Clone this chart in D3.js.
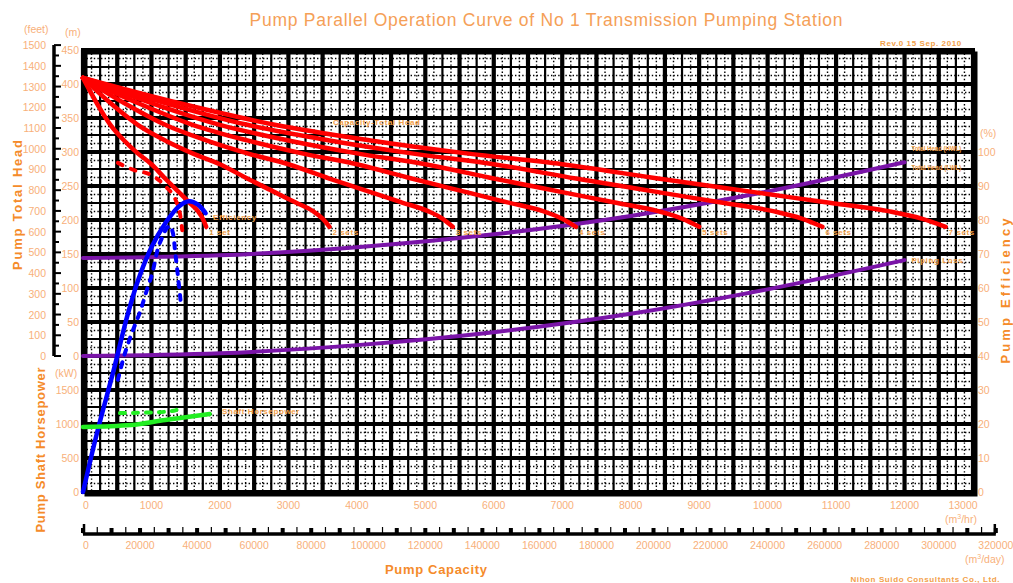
<!DOCTYPE html>
<html><head><meta charset="utf-8">
<script src="https://cdn.jsdelivr.net/npm/d3@7"></script>
<style>body{margin:0;background:#fff;} svg{display:block;font-family:"Liberation Sans",Arial,sans-serif;}</style>
</head><body><svg id="c" width="1013" height="583"></svg>
<script>
// ---------- tick labels ----------
const headTicks = [0,50,100,150,200,250,300,350,400,450];
const feetTicks = [0,100,200,300,400,500,600,700,800,900,1000,1100,1200,1300,1400,1500];
const kwTicks = [0,500,1000,1500];
const effTicks = [0,10,20,30,40,50,60,70,80,90,100];
const capTicks = [0,1000,2000,3000,4000,5000,6000,7000,8000,9000,10000,11000,12000,13000];
const dayTicks = [0,20000,40000,60000,80000,100000,120000,140000,160000,180000,200000,220000,240000,260000,280000,300000,320000];

// ---------- pump Q-H curves (m3/hr, m) ----------
const headValues = [409,372,340,317,298,282,261,241,226,213,202,190];
const capSet1 = [0,200,400,600,800,1000,1200,1400,1550,1680,1750,1800];
const capSet2 = [0,400,800,1200,1600,2000,2400,2800,3100,3360,3500,3600];
const capSet3 = [0,600,1200,1800,2400,3000,3600,4200,4650,5040,5250,5400];
const capSet4 = [0,800,1600,2400,3200,4000,4800,5600,6200,6720,7000,7200];
const capSet5 = [0,1000,2000,3000,4000,5000,6000,7000,7750,8400,8750,9000];
const capSet6 = [0,1200,2400,3600,4800,6000,7200,8400,9300,10080,10500,10800];
const capSet7 = [0,1400,2800,4200,5600,7000,8400,9800,10850,11760,12250,12600];
const setLabels = ["1 set","2 sets","3 sets","4 sets","5 sets","6 sets","7 sets"];

// dashed single pump head curve
const dashHeadQ = [510,730,1000,1200,1370,1420,1450];
const dashHeadH = [284,274,266,250,225,207,185];

// efficiency (%)
const effQ = [0,200,450,650,800,1000,1200,1400,1550,1680,1790];
const effV = [0,17,36,52,62,72,79,84,85.5,84.5,82];
const dashEffQ = [510,600,700,833,950,1008,1100,1160,1220,1271,1315,1344,1373,1395,1417,1430];
const dashEffV = [33,40,46,53,60.5,64,72,75,77.5,78.3,76,71,66,62,58,55];

// shaft power (kW)
const powQ = [0,700,1200,1850];
const powV = [956,985,1060,1147];
const dashPowQ = [540,800,1000,1200,1350,1430];
const dashPowV = [1160,1165,1170,1180,1200,1290];

// system curves (m)
const sysQ = [0,2000,4000,6000,8000,10000,12000];
const totalHeadV = [144,148,160,179,206,242,285];
const pipeLossV = [0,4,16,35,62,98,141];

// ---------- scales ----------
const svg = d3.select("#c");
const L=83, R=973, T=50, B=492;
const x = d3.scaleLinear().domain([0,13000]).range([L,R]);
const yH = d3.scaleLinear().domain([-200,450]).range([B,T]);
const yFt = d3.scaleLinear().domain([0,1500]).range([yH(0), yH(457.2)]);
const yKw = d3.scaleLinear().domain([0,6500]).range([B,T]);
const yE = d3.scaleLinear().domain([0,130]).range([B,T]);
const xDay = d3.scaleLinear().domain([0,312000]).range([L,R]);

const tickCol="#f8b07a", titleCol="#f5a057", axTitleCol="#f58b2a", lblCol="#f2a04a";

// ---------- grid ----------
const g = svg.append("g");
g.append("rect").attr("x",L).attr("y",T).attr("width",R-L).attr("height",B-T).attr("fill","#fff");
const colStep=500, rowStep=50;
const qLines = d3.range(0,13000+1,125);
const hLines = d3.range(-200,450+1,12.5);
function kind(v,step){ const r=((v%step)+step)%step; if(r===0) return 3; if(r===step/2) return 2; return 1; }
const sw = k => k===3?4.2:k===2?2.2:1.4;
[1,2,3].forEach(pass=>{
  qLines.forEach(v=>{
    const k=kind(v,colStep); if(k!==pass) return;
    g.append("line").attr("x1",x(v)).attr("x2",x(v)).attr("y1",T).attr("y2",B)
     .attr("stroke","#000").attr("stroke-width",sw(k))
     .attr("stroke-dasharray",k===1?"1.4,2.2":null);
  });
  hLines.forEach(v=>{
    const k=kind(v,rowStep); if(k!==pass) return;
    g.append("line").attr("x1",L).attr("x2",R).attr("y1",yH(v)).attr("y2",yH(v))
     .attr("stroke","#000").attr("stroke-width",sw(k))
     .attr("stroke-dasharray",k===1?"1.4,2.2":null);
  });
});
// frame with shadow
g.append("rect").attr("x",L+3).attr("y",T+3).attr("width",R-L).attr("height",B-T).attr("fill","none").attr("stroke","#000").attr("stroke-width",3);
g.append("rect").attr("x",L).attr("y",T).attr("width",R-L).attr("height",B-T).attr("fill","none").attr("stroke","#000").attr("stroke-width",4);

// ---------- curves ----------
const lineH = d3.line().x(d=>x(d[0])).y(d=>yH(d[1])).curve(d3.curveMonotoneX);
const lineE = d3.line().x(d=>x(d[0])).y(d=>yE(d[1])).curve(d3.curveCatmullRom);
const lineK = d3.line().x(d=>x(d[0])).y(d=>yKw(d[1])).curve(d3.curveMonotoneX);
const cg = svg.append("g").attr("fill","none").attr("stroke-linecap","round");

cg.append("path").attr("d",lineH(d3.zip(sysQ,pipeLossV))).attr("stroke","#7a14a8").attr("stroke-width",4);
cg.append("path").attr("d",lineH(d3.zip(sysQ,totalHeadV))).attr("stroke","#7a14a8").attr("stroke-width",4);

const sets=[capSet1,capSet2,capSet3,capSet4,capSet5,capSet6,capSet7];
sets.forEach(c=>{
  cg.append("path").attr("d",lineH(d3.zip(c,headValues))).attr("stroke","#ff0000").attr("stroke-width",4.5);
});
cg.append("path").attr("d",lineH(d3.zip(dashHeadQ,dashHeadH))).attr("stroke","#ff0000").attr("stroke-width",4).attr("stroke-dasharray","5,9");

cg.append("path").attr("d",lineE(d3.zip(effQ,effV))).attr("stroke","#0000ff").attr("stroke-width",4.5);
cg.append("path").attr("d",lineE(d3.zip(dashEffQ,dashEffV))).attr("stroke","#0000ff").attr("stroke-width",4).attr("stroke-dasharray","5,8");

cg.append("path").attr("d",lineK(d3.zip(powQ,powV))).attr("stroke","#22ee22").attr("stroke-width",4.5);
cg.append("path").attr("d",lineK(d3.zip(dashPowQ,dashPowV))).attr("stroke","#22ee22").attr("stroke-width",4).attr("stroke-dasharray","5,8");

// curve labels
const lg = svg.append("g").attr("fill",lblCol).attr("font-size",8).attr("font-weight","bold");
sets.forEach((c,i)=>{
  lg.append("text").attr("x",x(c[c.length-1])+3).attr("y",yH(headValues[headValues.length-1])+8).attr("letter-spacing",0.6).text(setLabels[i]);
});
lg.append("text").attr("x",x(3650)).attr("y",yH(340)).attr("letter-spacing",0.6).text("Capacity-Total Head");
lg.append("text").attr("x",x(1900)).attr("y",yE(80)).attr("letter-spacing",0.6).text("Efficiency");
lg.append("text").attr("x",x(2030)).attr("y",yKw(1140)).attr("letter-spacing",0.6).text("Shaft Horsepower");
lg.append("text").attr("x",x(12100)).attr("y",yH(302)).attr("textLength",50).attr("lengthAdjust","spacingAndGlyphs").text("Total Head (HWL)");
lg.append("text").attr("x",x(12100)).attr("y",yH(274)).attr("textLength",50).attr("lengthAdjust","spacingAndGlyphs").text("Total Head (LWL)");
lg.append("text").attr("x",x(12100)).attr("y",yH(137)).attr("letter-spacing",0.6).text("Piping Loss");

// ---------- axes ----------
const ax = svg.append("g").attr("fill",tickCol).attr("font-size",10.5);
// feet axis
svg.append("line").attr("x1",54).attr("x2",54).attr("y1",yFt(1500)).attr("y2",yH(0)).attr("stroke","#000").attr("stroke-width",3.5);
d3.range(0,1501,50).forEach(v=>{
  svg.append("line").attr("x1",54).attr("x2",v%100===0?61:59).attr("y1",yFt(v)).attr("y2",yFt(v)).attr("stroke","#000").attr("stroke-width",2);
});
feetTicks.forEach(v=>ax.append("text").attr("x",46).attr("y",yFt(v)+4).attr("text-anchor","end").text(v));
ax.append("text").attr("x",24).attr("y",33).text("(feet)");
ax.append("text").attr("x",65).attr("y",36).text("(m)");
headTicks.forEach(v=>ax.append("text").attr("x",79).attr("y",yH(v)+4).attr("text-anchor","end").text(v));
ax.append("text").attr("x",55).attr("y",yKw(0)-115).text("(kW)");
kwTicks.forEach(v=>ax.append("text").attr("x",79).attr("y",yKw(v)+4).attr("text-anchor","end").text(v));
// right efficiency axis
effTicks.forEach(v=>ax.append("text").attr("x",978).attr("y",yE(v)+4).text(v));
ax.append("text").attr("x",980).attr("y",yE(100)-15).text("(%)");
// capacity m3/hr
capTicks.forEach(v=>ax.append("text").attr("x",v===13000?x(v)-10:x(v)).attr("y",509).attr("text-anchor",v===0?"start":"middle").text(v));
ax.append("text").attr("x",945).attr("y",523).html("(m<tspan font-size='7' dy='-4'>3</tspan><tspan dy='4'>/hr)</tspan>");
// day axis
const dayEnd = xDay(320000);
svg.append("line").attr("x1",L).attr("x2",dayEnd).attr("y1",534).attr("y2",534).attr("stroke","#000").attr("stroke-width",3.5);
d3.range(0,320001,5000).forEach(v=>{
  if(v%10000===0){
    svg.append("rect").attr("x",xDay(v)-2).attr("y",528).attr("width",4).attr("height",5).attr("fill","#000");
  } else {
    svg.append("line").attr("x1",xDay(v)).attr("x2",xDay(v)).attr("y1",527).attr("y2",534).attr("stroke","#000").attr("stroke-width",1.2);
  }
});
svg.append("line").attr("x1",L+1).attr("x2",L+1).attr("y1",524).attr("y2",534).attr("stroke","#000").attr("stroke-width",2.5);
svg.append("line").attr("x1",dayEnd-1).attr("x2",dayEnd-1).attr("y1",524).attr("y2",534).attr("stroke","#000").attr("stroke-width",2.5);
dayTicks.forEach(v=>ax.append("text").attr("x",v===0?L:xDay(v)).attr("y",549).attr("text-anchor",v===0?"start":"middle").text(v));
ax.append("text").attr("x",965).attr("y",563).html("(m<tspan font-size='7' dy='-4'>3</tspan><tspan dy='4'>/day)</tspan>");

// ---------- titles ----------
svg.append("text").attr("x",546).attr("y",26).attr("text-anchor","middle").attr("fill",titleCol)
  .attr("font-size",17.5).attr("textLength",593).attr("lengthAdjust","spacing")
  .text("Pump Parallel Operation Curve of No 1 Transmission Pumping Station");
svg.append("text").attr("x",880).attr("y",46).attr("fill",lblCol).attr("font-size",8).attr("font-weight","bold").attr("letter-spacing",0.6).text("Rev.0  15 Sep. 2010");
const at = svg.append("g").attr("fill",axTitleCol).attr("font-weight","bold").attr("font-size",13);
at.append("text").attr("transform","translate(22,205) rotate(-90)").attr("text-anchor","middle").attr("textLength",130).attr("lengthAdjust","spacing").text("Pump Total Head");
at.append("text").attr("transform","translate(45,450) rotate(-90)").attr("text-anchor","middle").attr("textLength",165).attr("lengthAdjust","spacing").text("Pump Shaft Horsepower");
at.append("text").attr("transform","translate(1010,291) rotate(-90)").attr("text-anchor","middle").attr("textLength",145).attr("lengthAdjust","spacing").text("Pump Efficiency");
at.append("text").attr("x",436).attr("y",574).attr("text-anchor","middle").attr("textLength",102).attr("lengthAdjust","spacing").text("Pump Capacity");
svg.append("text").attr("x",1000).attr("y",582).attr("text-anchor","end").attr("fill",lblCol).attr("font-size",8).attr("font-weight","bold").attr("letter-spacing",0.6).text("Nihon Suido Consultants Co., Ltd.");
</script></body></html>
